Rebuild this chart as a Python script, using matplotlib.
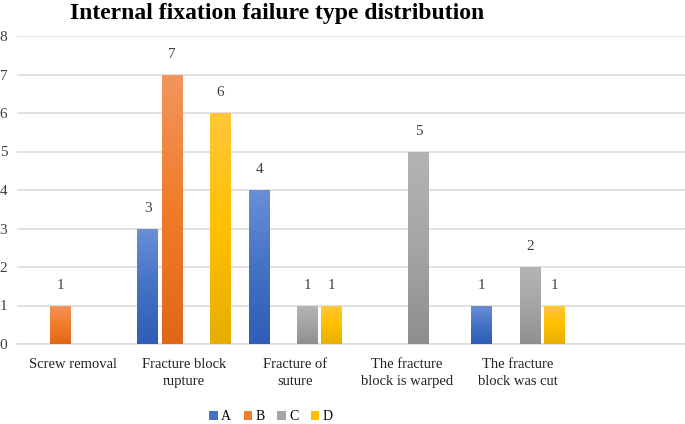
import matplotlib
matplotlib.use("Agg")
import matplotlib.pyplot as plt
import numpy as np
from matplotlib.colors import LinearSegmentedColormap
from matplotlib.patches import Patch

categories = ["Screw removal", "Fracture block\nrupture", "Fracture of\nsuture",
              "The fracture\nblock is warped", "The fracture\nblock was cut", ""]
series_names = ["A", "B", "C", "D"]
A = [0, 3, 4, 0, 1, 0]
B = [1, 7, 0, 0, 0, 0]
C = [0, 0, 1, 5, 2, 0]
D = [0, 6, 1, 0, 1, 0]
yticks = [0, 1, 2, 3, 4, 5, 6, 7, 8]
title = "Internal fixation failure type distribution"

series = [A, B, C, D]
# (top, middle, bottom) gradient colours, Excel-like
grads = [
    ("#6A8FD6", "#4472C4", "#2F5DB8"),
    ("#F2955E", "#F07C2A", "#E0661A"),
    ("#B4B4B4", "#A5A5A5", "#8E8E8E"),
    ("#FFC73A", "#FFC000", "#E6AE00"),
]
legend_colors = ["#4472C4", "#ED7D31", "#A5A5A5", "#FFC000"]

plt.rcParams['font.family'] = ['Liberation Serif', 'DejaVu Serif']

fig = plt.figure(figsize=(6.85, 4.24), dpi=100)
W, H = 685, 424
ax = fig.add_axes([17 / W, (424 - 344) / H, (685 - 17) / W, (344 - 36) / H])

x = np.arange(len(categories))
slot = 0.217
bw = 0.185
offsets = (np.arange(4) - 1.5) * slot

for s, (vals, g) in enumerate(zip(series, grads)):
    cmap = LinearSegmentedColormap.from_list("g%d" % s, [g[2], g[1], g[0]])
    bars = ax.bar(x + offsets[s], vals, width=bw, color=g[1], zorder=2)
    for rect, v in zip(bars, vals):
        if v == 0:
            rect.set_visible(False)
            continue
        x0 = rect.get_x()
        x1 = x0 + rect.get_width()
        grad = np.linspace(0, 1, 256).reshape(-1, 1)
        im = ax.imshow(grad, extent=[x0, x1, 0, v], origin="lower", cmap=cmap,
                       aspect="auto", zorder=3)
        im.set_clip_path(rect)
        ax.text(rect.get_x() + rect.get_width() / 2, v + 0.36, str(v),
                ha="center", va="bottom", fontsize=11, color="#404040", zorder=4)

ax.set_xlim(-0.5, len(categories) - 0.5)
ax.set_ylim(0, 8)
ax.set_yticks(yticks)
ax.set_yticklabels([str(t) for t in yticks], fontsize=11, color="#404040")
ax.set_xticks(x)
ax.set_xticklabels(categories, fontsize=10.5, color="#222222", linespacing=1.4)
ax.tick_params(axis="both", length=0)
ax.tick_params(axis="y", pad=7)
ax.tick_params(axis="x", pad=10)
ax.grid(axis="y", color="#D9D9D9", linewidth=1.1, zorder=0)
ax.set_axisbelow(True)
for sp in ["top", "right", "left"]:
    ax.spines[sp].set_visible(False)
ax.spines["bottom"].set_color("#D9D9D9")
ax.spines["bottom"].set_linewidth(1.1)

fig.text(277 / W, 1 - 13 / H, title, ha="center", va="center",
         fontsize=17, fontweight="bold", color="black")

handles = [Patch(facecolor=c, edgecolor="none") for c in legend_colors]
fig.legend(handles, series_names, loc="center", bbox_to_anchor=(271 / W, 1 - 417 / H),
           ncol=4, frameon=False, fontsize=10, handlelength=0.6, handleheight=0.6,
           handletextpad=0.25, columnspacing=0.9, borderpad=0.1)

fig.savefig("out.png", dpi=100)
